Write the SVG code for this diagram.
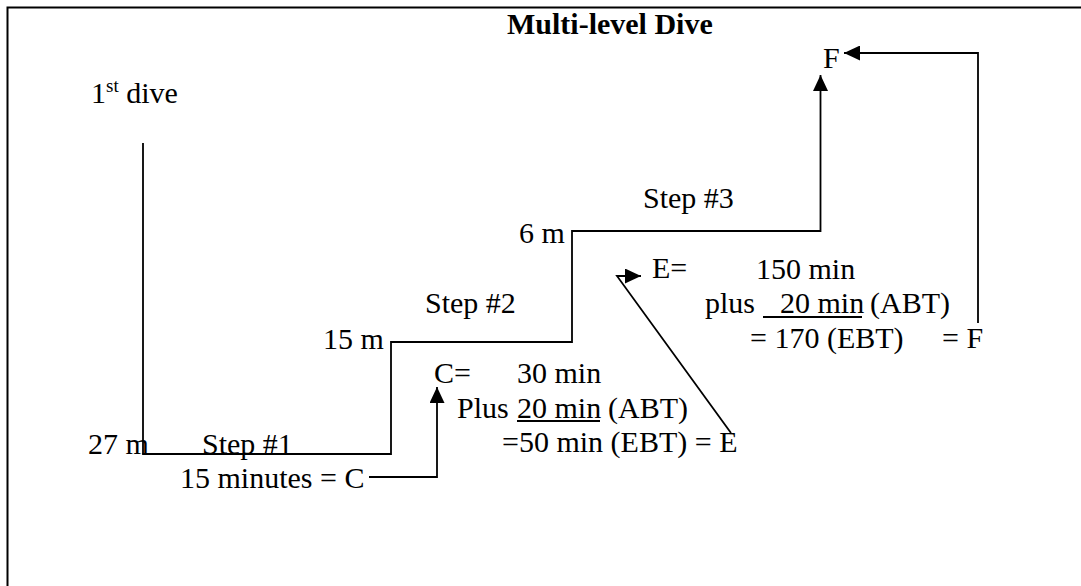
<svg xmlns="http://www.w3.org/2000/svg" width="1081" height="586" viewBox="0 0 1081 586">
  <style>
    text { font-family: "Liberation Serif", "Times New Roman", serif; font-size: 30px; fill: #000; }
    .title { font-weight: bold; }
    .ln { fill: none; stroke: #000; stroke-width: 1.8; }
    .ul { stroke: #000; stroke-width: 1.8; }
  </style>
  <defs>
    <marker id="ah" markerUnits="userSpaceOnUse" markerWidth="16" markerHeight="15" refX="16" refY="7.5" orient="auto" viewBox="0 0 16 15">
      <path d="M0,0 L16,7.5 L0,15 z" fill="#000"/>
    </marker>
  </defs>
  <rect width="1081" height="586" fill="#fff"/>
  <path id="frame" d="M7.5,586 V7.5 H1081" fill="none" stroke="#000" stroke-width="2"/>

  <g id="connectors">
    <path class="ln" d="M143,143 V454 H391 V342 H572 V231 H820.5 V75" marker-end="url(#ah)"/>
    <path class="ln" d="M369,477 H437 V387" marker-end="url(#ah)"/>
    <path class="ln" d="M731,433 L617,276 H641" marker-end="url(#ah)"/>
    <path class="ln" d="M978,323 V53 H844" marker-end="url(#ah)"/>
  </g>

  <g id="title"><text class="title" x="507" y="34">Multi-level Dive</text></g>
  <g id="first-dive"><text x="91" y="103">1<tspan font-size="19" dy="-11">st</tspan><tspan dy="11"> dive</tspan></text></g>
  <g id="depth-27"><text x="88" y="454">27 m</text></g>
  <g id="step1"><text x="202" y="454">Step #1</text></g>
  <g id="time-c"><text x="180" y="488">15 minutes = C</text></g>
  <g id="depth-15"><text x="323" y="349">15 m</text></g>
  <g id="step2"><text x="425" y="313">Step #2</text></g>
  <g id="depth-6"><text x="519" y="243">6 m</text></g>
  <g id="step3"><text x="643" y="208">Step #3</text></g>
  <g id="calc-c">
    <text x="434" y="383">C=</text>
    <text x="517" y="383">30 min</text>
    <text x="457" y="418">Plus</text>
    <text x="517" y="418">20 min</text>
    <text x="608" y="418">(ABT)</text>
    <line class="ul" x1="517" y1="421" x2="600" y2="421"/>
    <text x="502" y="452">=50 min (EBT) = E</text>
  </g>
  <g id="calc-e">
    <text x="652" y="278">E=</text>
    <text x="756" y="279">150 min</text>
    <text x="705" y="313">plus</text>
    <text x="780" y="313">20 min</text>
    <text x="870" y="313">(ABT)</text>
    <line class="ul" x1="763" y1="317" x2="862" y2="317"/>
    <text x="750" y="348">= 170 (EBT)</text>
    <text x="942" y="348">= F</text>
  </g>
  <g id="final-f"><text x="823" y="68">F</text></g>
</svg>
